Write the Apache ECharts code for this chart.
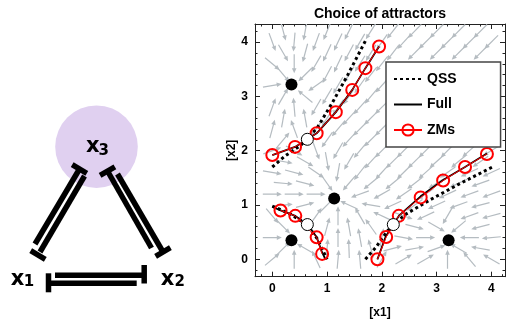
<!DOCTYPE html>
<html><head><meta charset="utf-8">
<script src="https://cdn.jsdelivr.net/npm/echarts@6/dist/echarts.min.js"></script>
<style>html,body{margin:0;padding:0;background:#fff}#c{width:507px;height:321px}</style>
</head><body><div id="c"></div>
<script>
// ---- tick values ----
const xMajor = [0, 1, 2, 3, 4];
const yMajor = [0, 1, 2, 3, 4];
const xMinor = [-0.2, 0.2, 0.4, 0.6, 0.8, 1.2, 1.4, 1.6, 1.8, 2.2, 2.4, 2.6, 2.8, 3.2, 3.4, 3.6, 3.8, 4.2];
const yMinor = [-0.2, 0.2, 0.4, 0.6, 0.8, 1.2, 1.4, 1.6, 1.8, 2.2, 2.4, 2.6, 2.8, 3.2, 3.4, 3.6, 3.8, 4.2];
const legendNames = ['QSS', 'Full', 'ZMs'];

// ---- fixed points ----
const stablePts = [[0.35, 3.22], [1.13, 1.12], [0.35, 0.35], [3.22, 0.35]];
const saddlePts = [[0.64, 2.21], [0.64, 0.64], [2.21, 0.64]];

// ---- QSS separatrices (dotted) ----
const qss1 = [[0, 1.70], [0.23, 1.9], [0.52, 2.1], [0.82, 2.42], [1.1, 2.89], [1.38, 3.4], [1.70, 4.02]];
const qss2 = [[1.70, 0], [1.9, 0.23], [2.1, 0.52], [2.42, 0.82], [2.89, 1.1], [3.4, 1.38], [4.02, 1.70]];
const qss3 = [[0, 0.98], [0.3, 0.85], [0.6, 0.66], [0.82, 0.38], [1.0, 0.0]];

// ---- Full model separatrices (solid) ----
const full1 = [[0, 1.92], [0.415, 2.07], [0.64, 2.21], [0.81, 2.32], [1.16, 2.71], [1.46, 3.12], [1.70, 3.52], [1.95, 3.92]];
const full2 = [[1.92, 0], [2.07, 0.415], [2.21, 0.64], [2.32, 0.81], [2.71, 1.16], [3.12, 1.46], [3.52, 1.70], [3.92, 1.95]];
const full3 = [[0, 0.97], [0.15, 0.9], [0.42, 0.8], [0.64, 0.64], [0.81, 0.41], [0.9, 0.15], [0.97, 0]];

// ---- ZMs points ----
const zms1 = [[0, 1.92], [0.415, 2.07], [0.81, 2.32], [1.16, 2.71], [1.46, 3.12], [1.70, 3.52], [1.95, 3.92]];
const zms2 = [[1.92, 0], [2.08, 0.41], [2.31, 0.80], [2.71, 1.14], [3.12, 1.45], [3.52, 1.70], [3.92, 1.94]];
const zms3 = [[0.15, 0.9], [0.42, 0.8], [0.81, 0.405], [0.91, 0.1]];

// ---- flow field arrows: [x, y, direction in degrees] ----
const flowArrows = [
  [0,4,290],[0.4,4,265],[0.8,4,250],[1.2,4,245],[1.6,4,240],[2.0,4,235],[2.4,4,228],[2.8,4,225],[3.2,4,225],[3.6,4,225],[4.0,4,225],
  [0,3.6,320],[0.4,3.6,270],[0.8,3.6,240],[1.2,3.6,245],[1.6,3.6,238],[2.0,3.6,232],
  [0,3.2,10],[0.8,3.2,215],[1.2,3.2,240],[1.6,3.2,235],[2.0,3.2,228],
  [0,2.8,70],[0.4,2.8,95],[0.8,2.8,240],[1.2,2.8,235],[1.6,2.8,228],[2.0,2.8,225],
  [0,2.4,75],[0.4,2.4,110],[0.8,2.4,235],[1.2,2.4,230],[1.6,2.4,225],[2.0,2.4,225],
  [0,2.0,20],[0.4,2.0,330],[0.8,2.0,290],[1.2,2.0,240],[1.6,2.0,230],[2.0,2.0,225],[2.4,2.0,225],[2.8,2.0,225],[3.2,2.0,225],[3.6,2.0,222],[4.0,2.0,212],
  [0,1.6,350],[0.4,1.6,345],[0.8,1.6,325],[1.2,1.6,260],[1.6,1.6,232],[2.0,1.6,228],[2.4,1.6,225],[2.8,1.6,222],[3.2,1.6,215],[3.6,1.6,205],[4.0,1.6,205],
  [0,1.2,0],[0.4,1.2,0],[0.8,1.2,0],[1.6,1.2,200],[2.0,1.2,210],[2.4,1.2,215],[2.8,1.2,215],[3.2,1.2,205],[3.6,1.2,200],[4.0,1.2,200],
  [0,0.8,310],[0.4,0.8,330],[0.8,0.8,55],[1.2,0.8,90],[1.6,0.8,120],[2.0,0.8,155],[2.4,0.8,340],[2.8,0.8,205],[3.2,0.8,240],[3.6,0.8,200],[4.0,0.8,195],
  [0,0.4,0],[0.8,0.4,115],[1.2,0.4,90],[1.6,0.4,100],[2.0,0.4,80],[2.4,0.4,350],[2.8,0.4,0],[3.6,0.4,180],[4.0,0.4,185],
  [0,0,40],[0.4,0,90],[0.8,0,115],[1.2,0,85],[1.6,0,95],[2.0,0,60],[2.4,0,30],[2.8,0,30],[3.2,0,90],[3.6,0,130],[4.0,0,150],
  [0.2,4.2,285],[0.6,4.2,260],[1.0,4.2,248],[1.4,4.2,243],[1.8,4.2,238],[2.2,4.2,232],[2.6,4.2,226],[3.0,4.2,225],[3.4,4.2,225],[3.8,4.2,225],
  [0.2,3.8,300],[0.6,3.8,255],[1.0,3.8,245],[1.4,3.8,242],[1.8,3.8,238],[2.2,3.8,232],[2.6,3.8,225],[3.0,3.8,225],[3.4,3.8,225],[3.8,3.8,225],
  [0.2,3.4,310],[0.6,3.4,225],[1.0,3.4,242],[1.4,3.4,238],[1.8,3.4,232],
  [0.2,3.0,60],[0.6,3.0,140],[1.0,3.0,240],[1.4,3.0,236],[1.8,3.0,230],
  [0.2,2.6,80],[0.6,2.6,100],[1.0,2.6,237],[1.4,2.6,228],[1.8,2.6,225],
  [0.2,2.2,50],[1.0,2.2,235],[1.4,2.2,228],[1.8,2.2,225],
  [0.2,1.8,350],[0.6,1.8,330],[1.0,1.8,280],[1.4,1.8,240],[1.8,1.8,228],[2.2,1.8,225],[2.6,1.8,225],[3.0,1.8,222],[3.4,1.8,220],[3.8,1.8,215],
  [0.2,1.4,355],[0.6,1.4,345],[1.0,1.4,305],[1.4,1.4,230],[1.8,1.4,220],[2.2,1.4,220],[2.6,1.4,218],[3.0,1.4,212],[3.4,1.4,205],[3.8,1.4,200],
  [0.2,1.0,5],[0.6,1.0,15],[1.0,1.0,45],[1.4,1.0,155],[1.8,1.0,170],[2.2,1.0,205],[2.6,1.0,215],[3.0,1.0,205],[3.4,1.0,200],[3.8,1.0,195],
  [0.2,0.6,315],[1.0,0.6,75],[1.4,0.6,100],[1.8,0.6,125],[2.6,0.6,345],[3.0,0.6,330],[3.4,0.6,220],[3.8,0.6,195],
  [0.2,0.2,45],[0.6,0.2,150],[1.0,0.2,85],[1.4,0.2,92],[1.8,0.2,105],[2.2,0.2,15],[2.6,0.2,10],[3.0,0.2,20],[3.4,0.2,150],[3.8,0.2,170]
];

const FONT = '"Liberation Sans", Arial, sans-serif';
const DFONT = '"DejaVu Sans", sans-serif';
const FRAME = '#222';
const ARROW = '#b5bcc1';

const chart = echarts.init(document.getElementById('c'), null, {renderer: 'canvas'});

function xAxisDef(pos, major) {
  return {
    type: 'value', position: pos, min: -0.316, max: 4.25,
    axisLine: {show: major, onZero: false, lineStyle: {color: FRAME, width: 1}},
    axisTick: {show: true, inside: true, length: major ? 5 : 2.5, customValues: major ? xMajor : xMinor,
      lineStyle: {color: FRAME, width: 1}},
    axisLabel: {show: major && pos === 'bottom', customValues: xMajor, margin: 6,
      fontFamily: FONT, fontWeight: 'bold', fontSize: 12, color: '#000'},
    splitLine: {show: false},
    name: (major && pos === 'bottom') ? '[x1]' : '',
    nameLocation: 'middle', nameGap: 30,
    nameTextStyle: {fontFamily: FONT, fontWeight: 'bold', fontSize: 12, color: '#000'}
  };
}
function yAxisDef(pos, major) {
  return {
    type: 'value', position: pos, min: -0.32, max: 4.333,
    axisLine: {show: major, onZero: false, lineStyle: {color: FRAME, width: 1}},
    axisTick: {show: true, inside: true, length: major ? 5 : 2.5, customValues: major ? yMajor : yMinor,
      lineStyle: {color: FRAME, width: 1}},
    axisLabel: {show: major && pos === 'left', customValues: yMajor, margin: 7,
      fontFamily: FONT, fontWeight: 'bold', fontSize: 12, color: '#000'},
    splitLine: {show: false},
    name: (major && pos === 'left') ? '[x2]' : '',
    nameLocation: 'middle', nameGap: 17, nameRotate: 90,
    nameTextStyle: {fontFamily: FONT, fontWeight: 'bold', fontSize: 12, color: '#000'}
  };
}

function lineSeries(name, data, style, extra) {
  return Object.assign({
    type: 'line', name: name, data: data, symbol: 'none', smooth: false,
    lineStyle: style, itemStyle: {color: style.color}, emphasis: {disabled: true},
    animation: false, clip: true
  }, extra || {});
}

const bar = (x1, y1, x2, y2, w) => ({type: 'line', shape: {x1, y1, x2, y2},
  style: {stroke: '#000', lineWidth: w || 5.5, lineCap: 'butt'}, silent: true});
const txt = (x, y, s, size) => ({type: 'text', x: x, y: y, silent: true,
  style: {text: s, font: 'bold ' + size + 'px ' + DFONT, fill: '#000', align: 'center', verticalAlign: 'middle'}});

const qssStyle = {color: '#000', width: 3, type: [3, 3], cap: 'butt'};
const fullStyle = {color: '#000', width: 1.8};
const zmStyle = {color: '#f00', width: 1};
const zmExtra = {symbol: 'circle', symbolSize: 12,
  itemStyle: {color: 'rgba(255,255,255,0)', borderColor: '#f00', borderWidth: 2}, z: 4};

const option = {
  backgroundColor: '#fff',
  animation: false,
  title: {text: 'Choice of attractors', left: 380, top: 7, textAlign: 'center', padding: 0,
    textStyle: {fontFamily: FONT, fontWeight: 'bold', fontSize: 14, color: '#000'}},
  grid: {left: 255, top: 24, width: 250, height: 252.7, outerBoundsMode: 'none', containLabel: false},
  xAxis: [xAxisDef('bottom', true), xAxisDef('bottom', false), xAxisDef('top', true), xAxisDef('top', false)],
  yAxis: [yAxisDef('left', true), yAxisDef('left', false), yAxisDef('right', true), yAxisDef('right', false)],
  legend: {
    data: [
      {name: legendNames[0], itemStyle: {opacity: 0}},
      {name: legendNames[1], itemStyle: {opacity: 0}},
      {name: legendNames[2]}
    ],
    orient: 'vertical', left: 386, top: 62,
    backgroundColor: '#fff', borderColor: '#444', borderWidth: 1.5,
    padding: [10, 44, 10, 7], itemWidth: 28, itemHeight: 14, itemGap: 11.5,
    textStyle: {fontFamily: FONT, fontWeight: 'bold', fontSize: 14, color: '#000'},
    selectedMode: false, z: 10
  },
  graphic: [
    {type: 'circle', shape: {cx: 96.5, cy: 146.7, r: 41.3}, style: {fill: '#e0d0f0'}, silent: true},
    // x1 -> x3 (bar at x3)
    bar(35, 244, 79.5, 169), bar(72.2, 164.7, 86.8, 173.3),
    // x3 -> x1 (bar at x1)
    bar(84.5, 176, 40, 252), bar(30.7, 250.7, 45.3, 259.3),
    // x2 -> x3 (bar at x3)
    bar(151.5, 248, 107.5, 171), bar(100.1, 175.3, 114.9, 166.8),
    // x3 -> x2 (bar at x2)
    bar(117.5, 174, 163, 252), bar(155.6, 256.3, 170.4, 247.7),
    // x1 -> x2
    bar(55, 275.3, 144.2, 275.3), bar(144.2, 265, 144.2, 283.5),
    // x2 -> x1
    bar(48.5, 283.3, 136.7, 283.3), bar(48.5, 273.3, 48.5, 292.3),
    txt(92.7, 146.4, 'x', 21), txt(103.7, 151.3, '3', 15),
    txt(17.5, 279.2, 'x', 21), txt(28.9, 282.5, '1', 15),
    txt(167.5, 279.2, 'x', 21), txt(179.7, 282.5, '2', 15)
  ],
  series: [
    {
      type: 'custom', name: 'flow', data: flowArrows, z: 1, clip: true, silent: true,
      encode: {x: 0, y: 1},
      renderItem: function (params, api) {
        const x = api.value(0), y = api.value(1), a = api.value(2) * Math.PI / 180;
        const c = api.coord([x, y]);
        const c2 = api.coord([x + 0.01 * Math.cos(a), y + 0.01 * Math.sin(a)]);
        let ux = c2[0] - c[0], uy = c2[1] - c[1];
        const n = Math.hypot(ux, uy); ux /= n; uy /= n;
        const L = 19, h = 5, w = 2.3;
        const x0 = c[0] - ux * L / 2, y0 = c[1] - uy * L / 2;
        const x1 = c[0] + ux * L / 2, y1 = c[1] + uy * L / 2;
        const bx = x1 - ux * h, by = y1 - uy * h;
        return {type: 'group', children: [
          {type: 'line', shape: {x1: x0, y1: y0, x2: bx + ux, y2: by + uy}, style: {stroke: ARROW, lineWidth: 1.2}},
          {type: 'polygon', shape: {points: [[x1, y1], [bx - uy * w, by + ux * w], [bx + uy * w, by - ux * w]]},
            style: {fill: ARROW}}
        ]};
      }
    },
    lineSeries('QSS', qss1, qssStyle, {z: 3}),
    lineSeries('QSS', qss2, qssStyle, {z: 3}),
    lineSeries('QSS', qss3, qssStyle, {z: 3}),
    lineSeries('Full', full1, fullStyle, {z: 3}),
    lineSeries('Full', full2, fullStyle, {z: 3}),
    lineSeries('Full', full3, fullStyle, {z: 3}),
    lineSeries('ZMs', zms1, zmStyle, zmExtra),
    lineSeries('ZMs', zms2, zmStyle, zmExtra),
    lineSeries('ZMs', zms3, zmStyle, zmExtra),
    {type: 'scatter', name: 'stable', data: stablePts, symbol: 'circle', symbolSize: 12, z: 5,
      itemStyle: {color: '#000', opacity: 1}, silent: true, animation: false},
    {type: 'scatter', name: 'saddle', data: saddlePts, symbol: 'circle', symbolSize: 12, z: 5,
      itemStyle: {color: '#fff', borderColor: '#000', borderWidth: 1, opacity: 1}, silent: true, animation: false}
  ]
};
chart.setOption(option);
</script>
</body></html>
